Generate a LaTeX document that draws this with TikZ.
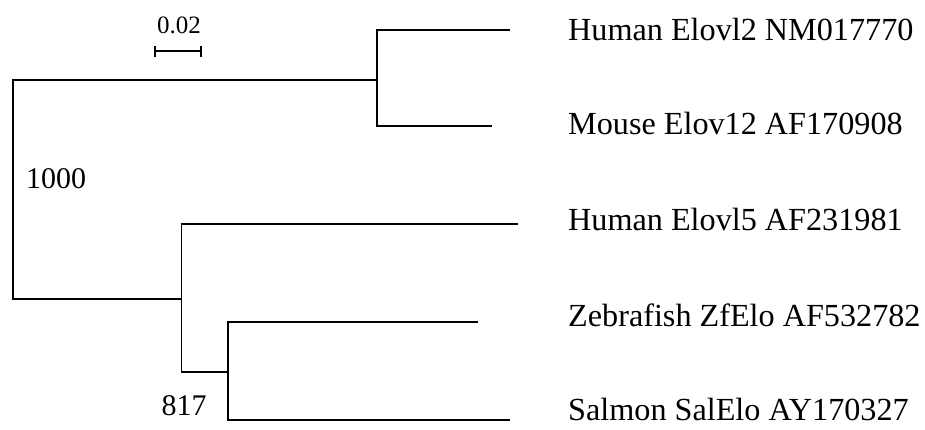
\documentclass[tikz,border=0pt]{standalone}
\usepackage{fontspec}
\setmainfont{Liberation Serif}
\usetikzlibrary{arrows.meta}

\tikzset{
  ramo/.style={line width=1.7pt},
  taxon/.style={anchor=base west, inner sep=0pt, font=\fontsize{32.2}{39}\selectfont},
  suporte/.style={anchor=base west, inner sep=0pt, font=\fontsize{30}{36}\selectfont},
  escala/.style={line width=2pt, {Bar[width=11pt,line width=2pt]}-{Bar[width=11pt,line width=2pt]}},
}

\begin{document}
\begin{tikzpicture}[x=1pt,y=-1pt]
      \useasboundingbox (0,0) rectangle (925,430);
      % Nos internos
      \coordinate (n0) at (13, 189);
      \coordinate (n1) at (377, 80);
      \coordinate (n2) at (181.5, 299);
      \coordinate (n3) at (228, 372);
      % Folhas
      \coordinate (l1) at (510, 30);
      \coordinate (l2) at (492, 126);
      \coordinate (l3) at (518, 224);
      \coordinate (l4) at (478, 322);
      \coordinate (l5) at (510, 420);
      % Ramos
      \draw[ramo] (n0) |- (n1);
      \draw[ramo] (n0) |- (n2);
      \draw[ramo] (n1) |- (l1);
      \draw[ramo] (n1) |- (l2);
      \draw[ramo] (n2) |- (l3);
      \draw[ramo] (n2) |- (n3);
      \draw[ramo] (n3) |- (l4);
      \draw[ramo] (n3) |- (l5);
      % Valores de bootstrap
      \node[suporte] (b0) at (26, 189) {1000};
      \node[suporte] (b3) at (161.5, 415) {817};
      % Nomes das sequencias
      \node[taxon] (t1) at (568, 41) {Human Elovl2 NM017770};
      \node[taxon] (t2) at (568, 135) {Mouse Elov12 AF170908};
      \node[taxon] (t3) at (568, 230) {Human Elovl5 AF231981};
      \node[taxon] (t4) at (568, 326) {Zebrafish ZfElo AF532782};
      \node[taxon] (t5) at (568, 420) {Salmon SalElo AY170327};
      % Barra de escala
      \coordinate (s1) at (153.5, 51.5);
      \coordinate (s2) at (201.5, 51.5);
      \draw[escala] (s1) -- (s2);
      \node[anchor=base, inner sep=0pt, font=\fontsize{25}{30}\selectfont] (sl) at (179, 34) {0.02};
\end{tikzpicture}
\end{document}
